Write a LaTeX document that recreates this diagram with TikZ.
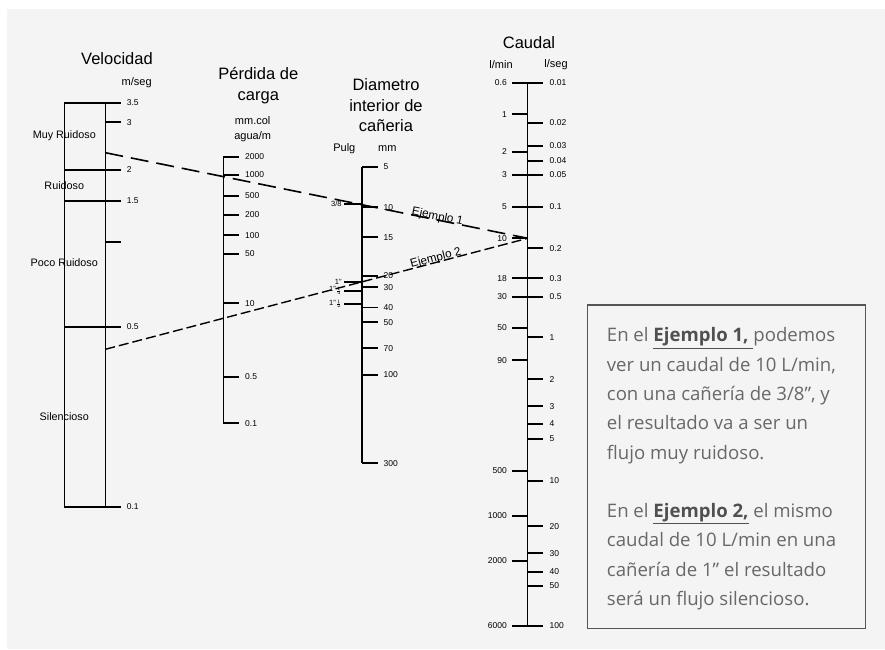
\documentclass[tikz,border=0pt]{standalone}
\usepackage{fontspec}
\setmainfont{Liberation Sans}
\newfontfamily\notefont{Open Sans}
\usetikzlibrary{positioning}

\definecolor{paper}{RGB}{243,244,243}
\definecolor{notegray}{RGB}{104,104,104}
\definecolor{notedark}{RGB}{80,80,80}
\definecolor{framegray}{RGB}{85,85,85}

\tikzset{
  axisline/.style={line width=1.1pt},
  tickmark/.style={line width=1.8pt},
  ticklbl/.style={inner sep=0pt, font=\fontsize{8.5}{9}\selectfont},
  tinylbl/.style={inner sep=0pt, font=\fontsize{7.5}{8}\selectfont},
  scaletitle/.style={align=center, inner sep=0pt, font=\fontsize{16.5}{20.5}\selectfont},
  unitlbl/.style={align=center, inner sep=0pt, font=\fontsize{11}{14.3}\selectfont},
  zonelbl/.style={inner sep=0pt, font=\fontsize{10.8}{12}\selectfont},
  ejemplo/.style={line width=1.6pt},
  ejlbl/.style={sloped, anchor=base, inner sep=0pt, font=\fontsize{11.7}{12}\selectfont},
}

\begin{document}
\begin{tikzpicture}[x=1pt, y=-1pt]
\useasboundingbox (0,0) rectangle (885,649);
\fill[white] (0,0) rectangle (885,649);
\fill[paper] (7,9) rectangle (885,649);

% Velocidad
\node[scaletitle] (veltitle) at (117,59) {Velocidad};
\node[unitlbl] (velunit) at (136.7,82.3) {m/seg};
\draw[axisline] (64.3,102.7) -- (64.3,506.7);
\draw[axisline] (105.3,102.7) -- (105.3,506.7);
\foreach \y/\t [count=\k] in {102.7/3.5, 169.7/2, 200.7/1.5, 326.7/0.5, 506.7/0.1}
  \draw[tickmark] (64.3,\y) -- (121,\y) node[ticklbl, right=5pt] (vel\k) {\t};
\draw[tickmark] (105.3,122.3) -- (121,122.3) node[ticklbl, right=5pt] (velthree) {3};
\draw[tickmark] (105.3,242) -- (121,242);

\node[zonelbl] (muy) at (64.3,136) {Muy Ruidoso};
\node[zonelbl] (ruid) at (64.3,185.7) {Ruidoso};
\node[zonelbl] (poco) at (64.3,263) {Poco Ruidoso};
\node[zonelbl] (sil) at (64.3,416.7) {Silencioso};

% Perdida de carga
\node[scaletitle] (pctitle) at (258.3,85.5) {Pérdida de\\carga};
\node[unitlbl] (pcunit) at (252.7,129) {mm.col\\agua/m};
\draw[axisline] (223.3,156.7) -- (223.3,423.3);
\foreach \y/\t [count=\k] in {156.7/2000, 175/1000, 195.7/500, 215/200, 235.3/100,
    254/50, 303.3/10, 376.7/0.5, 423.3/0.1}
  \draw[tickmark] (223.3,\y) -- (239.3,\y) node[ticklbl, right=5pt] (pc\k) {\t};

% Diametro interior
\node[scaletitle] (dititle) at (386,105.3) {Diametro\\interior de\\cañeria};
\node[unitlbl] (pulg) at (344.3,148.3) {Pulg};
\node[unitlbl] (mm) at (387.3,148.3) {mm};
\draw[axisline] (362,166.7) -- (362,463.3);
\foreach \y/\t [count=\k] in {166.7/5, 207.3/10, 237.3/15, 276/20, 287.3/30,
    307.5/40, 322.2/50, 348.3/70, 374.7/100, 463.3/300}
  \draw[tickmark] (362,\y) -- (377.7,\y) node[ticklbl, right=5pt] (mm\k) {\t};
\foreach \y/\t [count=\k] in {204/{3/8}, 281.7/1", 290.7/{1"$\scriptscriptstyle\frac{1}{4}$},
    304/{1"$\scriptscriptstyle\frac{1}{2}$}}
  \draw[tickmark] (362,\y) -- (343.5,\y) node[tinylbl, left=1pt] (pu\k) {\t};

% Caudal
\node[scaletitle] (qtitle) at (529,42.7) {Caudal};
\node[unitlbl] (lmin) at (501,64.7) {l/min};
\node[unitlbl] (lseg) at (556,64.7) {l/seg};
\draw[axisline] (527.7,82.7) -- (527.7,625.7);
\foreach \y/\t [count=\k] in {82.7/0.6, 114.3/1, 152/2, 175/3, 207/5, 238.3/10,
    278.3/18, 297/30, 328/50, 360.3/90, 470.7/500, 516/1000, 561/2000, 625.7/6000}
  \draw[tickmark] (527.7,\y) -- (511.7,\y) node[ticklbl, left=4pt] (ql\k) {\t};
\foreach \y/\t [count=\k] in {82.7/0.01, 123/0.02, 145.7/0.03, 161/0.04, 175/0.05,
    207/0.1, 248.3/0.2, 278.3/0.3, 297/0.5, 337.3/1, 379.3/2, 406.3/3, 423.7/4,
    438.7/5, 481/10, 526.3/20, 553.3/30, 572/40, 585.7/50, 625.7/100}
  \draw[tickmark] (527.7,\y) -- (543.3,\y) node[ticklbl, right=5.5pt] (qs\k) {\t};

% ejemplos
\coordinate (velA) at (105.3,152.7);
\coordinate (velB) at (105.3,349.3);
\coordinate (q10) at (527.7,238.3);
\draw[ejemplo, dash pattern=on 18pt off 8pt] (velA) -- node[ejlbl, pos=.785] (ej1) {Ejemplo 1} (q10);
\draw[ejemplo, line width=1.4pt, dash pattern=on 10pt off 4pt] (velB) -- node[ejlbl, pos=.785, yshift=1pt] (ej2) {Ejemplo 2} (q10);

% nota
\draw[framegray, line width=1.3pt] (587.7,305) rectangle (865.7,628.3);
\node[anchor=north west, inner sep=0pt, align=left, text=notegray,
      font=\notefont\fontsize{18.6}{29.3}\selectfont] (nota) at (606.7,327.5)
  {En el {\color{notedark}\underline{\textbf{Ejemplo 1,}\ }}podemos\\
   ver un caudal de 10 L/min,\\
   con una cañería de 3/8”, y\\
   el resultado va a ser un\\
   flujo muy ruidoso.\\[29.3pt]
   En el {\color{notedark}\underline{\textbf{Ejemplo 2,}}} el mismo\\
   caudal de 10 L/min en una\\
   cañería de 1” el resultado\\
   será un flujo silencioso.};
\end{tikzpicture}
\end{document}
